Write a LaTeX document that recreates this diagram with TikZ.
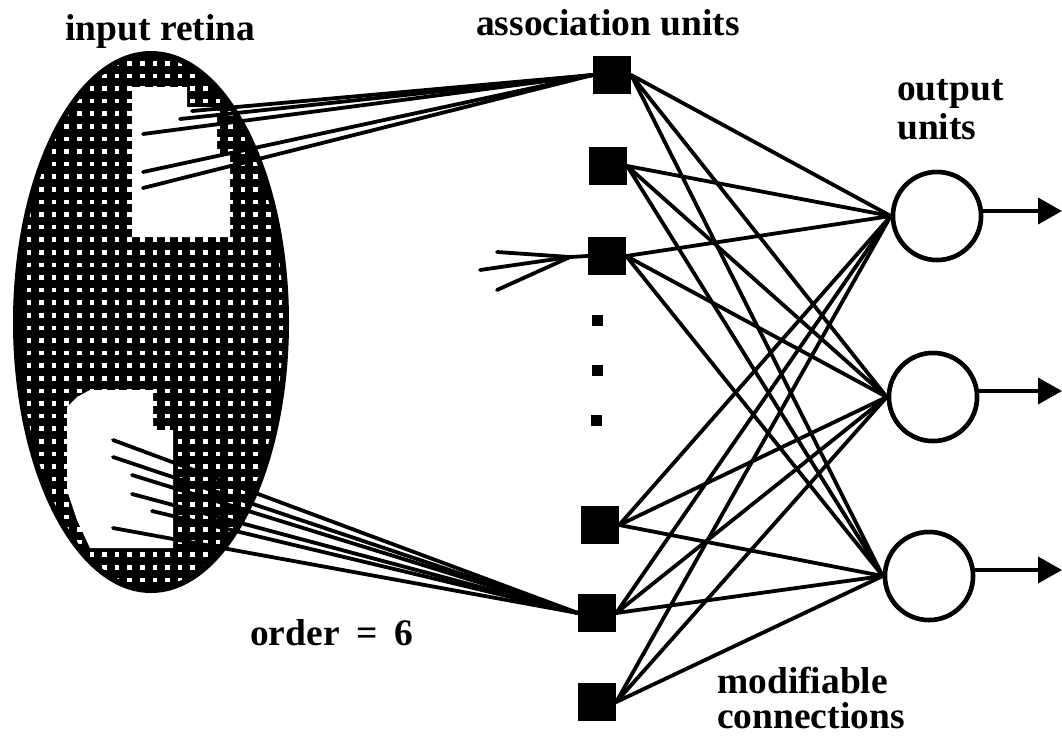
\documentclass[tikz,border=0pt]{standalone}
\usepackage{fontspec}
\setmainfont{Liberation Serif}
\usetikzlibrary{arrows.meta}
\begin{document}
\begin{tikzpicture}[x=1pt,y=-1pt,
  assoc/.style={fill=black, minimum width=38pt, minimum height=38pt, inner sep=0pt},
  dotsq/.style={fill=black, minimum size=11pt, inner sep=0pt},
  outunit/.style={circle, draw=black, line width=4.5pt, minimum size=88pt, inner sep=0pt, fill=white},
  conn/.style={line width=3.8pt, line cap=round},
  feed/.style={line width=3.8pt, line cap=round},
  outarrow/.style={line width=3.8pt, -{Triangle[length=24pt,width=26pt]}},
  lbl/.style={font=\bfseries\fontsize{37.5}{40}\selectfont, inner sep=0pt}
]
\useasboundingbox (0,0) rectangle (1062,740);
% ---- input retina ----
\fill[black] (151,322) ellipse [x radius=138, y radius=271];
\begin{scope}
  \clip (151,322) ellipse [x radius=132, y radius=265];
  \foreach \i in {-10,...,11}{
    \foreach \j in {-1,...,42}{
      \fill[white] ({142.3+12.6*\i-2.3},{63.3+12.6*\j-2.3}) rectangle +(4.6,4.6);
    }
  }
\end{scope}
\fill[white] (132,87) -- (187,87) -- (187,107) -- (217,107) -- (217,155) -- (230,155)
  -- (230,237) -- (132,237) -- cycle;
\fill[white] (90,390) -- (153,390) -- (153,430) -- (173,430) -- (173,548) -- (90,548)
  -- (77,520) -- (67,490) -- (67,407) -- (77,397) -- cycle;
% ---- association units ----
\node[assoc] (a1) at (612,75) {};
\node[assoc] (a2) at (608,166) {};
\node[assoc] (a3) at (607,256) {};
\node[dotsq] (d1) at (597,320) {};
\node[dotsq] (d2) at (597,370) {};
\node[dotsq] (d3) at (596,420) {};
\node[assoc] (a4) at (600,525) {};
\node[assoc] (a5) at (597,613) {};
\node[assoc] (a6) at (597,702) {};
% ---- output units ----
\node[outunit] (o1) at (937,216) {};
\node[outunit] (o2) at (933,397) {};
\node[outunit] (o3) at (929,576) {};
% ---- receptive field lines ----
\coordinate (t1) at (143,134);
\coordinate (t2) at (180,119);
\coordinate (t3) at (192,111);
\coordinate (t4) at (143,172);
\coordinate (t5) at (143,188);
\foreach \p in {t1,t2,t3,t4,t5} \draw[feed] (\p) -- (a1.west);
\coordinate (b1) at (113,440);
\coordinate (b2) at (113,457);
\coordinate (b3) at (132,475);
\coordinate (b4) at (132,494);
\coordinate (b5) at (152,511);
\coordinate (b6) at (113,528);
\foreach \p in {b1,b2,b3,b4,b5,b6} \draw[feed] (\p) -- (a5.west);
\coordinate (f1) at (497,252);
\coordinate (f2) at (480,270);
\coordinate (f3) at (497,290);
\coordinate (fc) at (570,257);
\foreach \p in {f1,f2,f3} \draw[feed] (\p) -- (fc);
\draw[feed] (fc) -- (a3.west);
% ---- modifiable connections ----
\foreach \a in {a1,a2,a3,a4,a5,a6}{
  \foreach \o in {o1,o2,o3}{
    \draw[conn] (\a.east) -- (\o.west);
  }
}
\node[outunit] at (o1) {};
\node[outunit] at (o2) {};
\node[outunit] at (o3) {};
% ---- outputs ----
\coordinate (e1) at (1062,211);
\coordinate (e2) at (1062,391);
\coordinate (e3) at (1062,570);
\draw[outarrow] ([yshift=5pt]o1.east) -- (e1);
\draw[outarrow] ([yshift=6pt]o2.east) -- (e2);
\draw[outarrow] ([yshift=6pt]o3.east) -- (e3);
% ---- labels ----
\node[lbl, anchor=base west] (lret) at (65,40) {input retina};
\node[lbl, anchor=base west] (lass) at (476,35) {association units};
\node[lbl, anchor=base west] (lout1) at (897,100) {output};
\node[lbl, anchor=base west] (lout2) at (897,139) {units};
\node[lbl, anchor=base west] (lord) at (250,645) {order\hspace{0.45em}=\hspace{0.45em}6};
\node[lbl, anchor=base west] (lmod1) at (717,693) {modifiable};
\node[lbl, anchor=base west] (lmod2) at (717,728) {connections};
\end{tikzpicture}
\end{document}
